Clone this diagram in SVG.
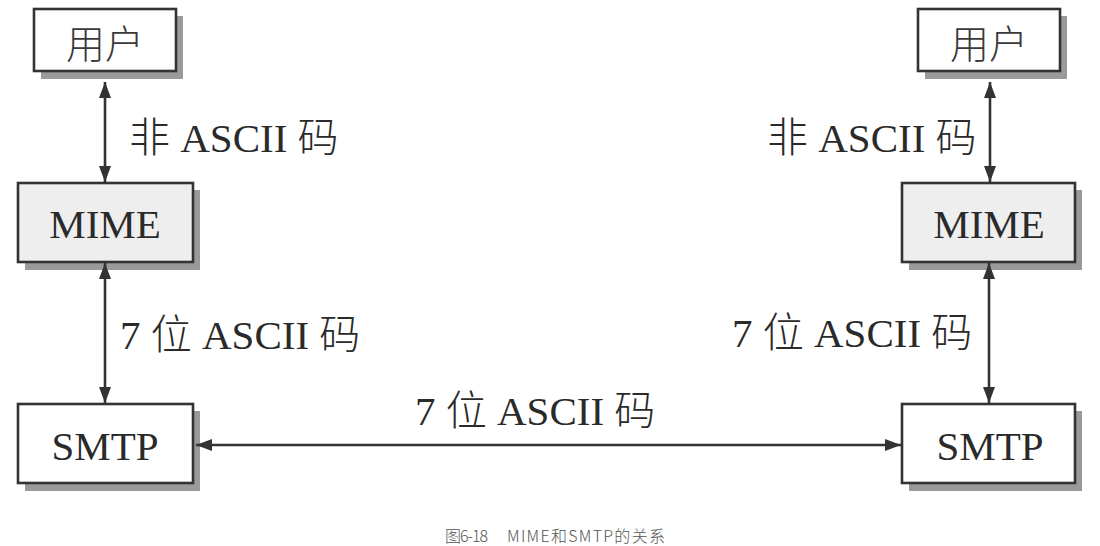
<svg xmlns="http://www.w3.org/2000/svg" width="1100" height="546" viewBox="0 0 1100 546">
<style>
.shadow{fill:#9a9a9a;stroke:none}
.box{fill:#ffffff;stroke:#333333;stroke-width:2.6}
.gray{fill:#eeeeee}
.lbl{font-family:"Liberation Serif","Noto Sans CJK SC",serif;font-size:41px;font-weight:300;fill:#2a2a2a}
.cjk{font-family:"Liberation Serif","Noto Sans CJK SC",serif;font-size:39px;font-weight:300;fill:#3a3a3a}
.ctr{text-anchor:middle}
.conn{stroke:#333333;stroke-width:2.6;fill:none}
.cap{font-family:"Noto Sans CJK SC","Noto Sans",sans-serif;font-size:16px;font-weight:300;fill:#555555}
</style>
<defs>
<marker id="ah" viewBox="0 0 16 12" refX="16" refY="6" markerWidth="16" markerHeight="12" markerUnits="userSpaceOnUse" orient="auto-start-reverse">
<path d="M0,0 L16,6 L0,12 Z" fill="#333333"/>
</marker>
</defs>
<rect width="1100" height="546" fill="#ffffff"/>

<g id="user-left">
<rect class="shadow" x="41" y="16" width="142" height="63"/>
<rect class="box" x="34" y="9" width="142" height="62"/>
<text class="cjk ctr" x="105" y="58">用户</text>
</g>
<g id="mime-left">
<rect class="shadow" x="25" y="190" width="175" height="80"/>
<rect class="box gray" x="18" y="183" width="175" height="79"/>
<text class="lbl ctr" x="105" y="238">MIME</text>
</g>
<g id="smtp-left">
<rect class="shadow" x="25" y="411" width="175" height="80"/>
<rect class="box" x="18" y="404" width="175" height="79"/>
<text class="lbl ctr" x="105" y="460">SMTP</text>
</g>

<g id="user-right">
<rect class="shadow" x="925" y="16" width="142" height="63"/>
<rect class="box" x="918" y="9" width="142" height="62"/>
<text class="cjk ctr" x="989" y="58">用户</text>
</g>
<g id="mime-right">
<rect class="shadow" x="909" y="190" width="173" height="80"/>
<rect class="box gray" x="902" y="183" width="173" height="79"/>
<text class="lbl ctr" x="989" y="238">MIME</text>
</g>
<g id="smtp-right">
<rect class="shadow" x="909" y="411" width="173" height="80"/>
<rect class="box" x="902" y="404" width="173" height="79"/>
<text class="lbl ctr" x="990" y="460">SMTP</text>
</g>

<g id="connectors">
<line class="conn" x1="105" y1="82" x2="105" y2="182" marker-start="url(#ah)" marker-end="url(#ah)"/>
<line class="conn" x1="105" y1="263" x2="105" y2="403" marker-start="url(#ah)" marker-end="url(#ah)"/>
<line class="conn" x1="990" y1="82" x2="990" y2="182" marker-start="url(#ah)" marker-end="url(#ah)"/>
<line class="conn" x1="989" y1="263" x2="989" y2="403" marker-start="url(#ah)" marker-end="url(#ah)"/>
<line class="conn" x1="196" y1="445" x2="901" y2="445" marker-start="url(#ah)" marker-end="url(#ah)"/>
</g>

<g id="labels">
<text class="lbl" x="129" y="152">非 ASCII 码</text>
<text class="lbl" x="120" y="349">7 位 ASCII 码</text>
<text class="lbl" x="415" y="425">7 位 ASCII 码</text>
<text class="lbl" x="767" y="152">非 ASCII 码</text>
<text class="lbl" x="732" y="347">7 位 ASCII 码</text>
</g>

<text class="cap" x="445" y="542" textLength="43" lengthAdjust="spacing">图6-18</text>
<text class="cap" x="507" y="542" textLength="158" lengthAdjust="spacing">MIME和SMTP的关系</text>
</svg>
